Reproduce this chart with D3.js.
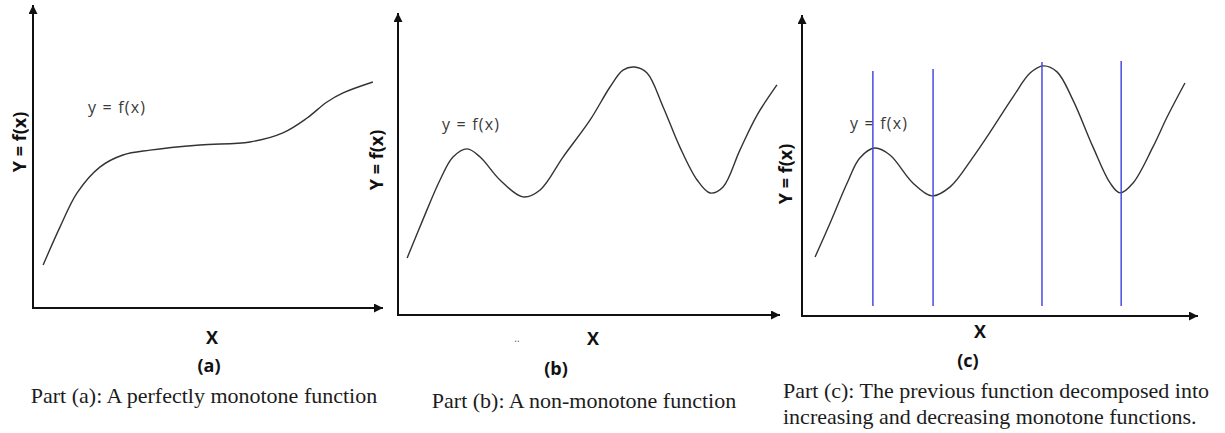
<!DOCTYPE html>
<html>
<head>
<meta charset="utf-8">
<script src="https://cdn.jsdelivr.net/npm/d3@7/dist/d3.min.js"></script>
<style>
  body { margin: 0; background: #fff; }
  svg { display: block; }
</style>
</head>
<body>
<svg id="chart" width="1225" height="433"></svg>
<script>
// sketch values, both axes on a 0..100 scale per panel
const curveA = [[2.9,14.2],[7.7,26.7],[12.6,38.0],[19.1,46.5],[25.7,50.5],[33.4,52.1],[47.7,53.8],
  [62.0,54.8],[71.4,57.8],[78.3,62.7],[84.0,68.0],[88.6,71.0],[97.1,74.6]];

const curveB = [[2.4,18.9],[6.5,31.5],[11.0,44.7],[14.4,52.3],[18.1,55.0],[21.5,52.3],[26.7,44.7],
  [32.7,39.1],[37.2,41.4],[43.2,52.3],[50.3,64.6],[55.5,75.5],[58.9,81.1],[62.0,82.1],[65.2,80.1],
  [69.4,68.9],[73.8,55.6],[78.3,44.7],[81.7,40.4],[85.1,42.4],[89.5,54.6],[94.0,66.2],[99.2,76.2]];

const curveC = [[3.3,19.6],[7.1,30.9],[11.4,44.2],[14.6,52.5],[18.4,55.8],[22.2,53.5],[28.0,44.2],
  [32.8,39.9],[37.4,42.9],[43.2,52.8],[48.2,62.5],[53.3,72.8],[57.6,80.7],[60.9,83.1],[64.4,81.1],
  [68.4,71.8],[73.5,56.1],[77.8,44.2],[80.3,40.9],[83.6,44.2],[88.6,56.1],[92.2,66.1],[96.7,77.4]];

// where (c) is cut into monotone pieces
const splitX = [17.9, 33.1, 60.6, 80.6];
const splitTop = [81.4, 82.1, 84.4, 84.7];
const splitBottom = 3.3;

const curveLabel = 'y = f(x)';
const yLabel = 'Y = f(x)';
const xLabel = 'X';
const partTags = ['(a)', '(b)', '(c)'];
const captions = [
  ['Part (a): A perfectly monotone function'],
  ['Part (b): A non-monotone function'],
  ['Part (c): The previous function decomposed into', 'increasing and decreasing monotone functions.']
];

const svg = d3.select('#chart');

svg.append('defs').append('marker')
    .attr('id', 'arrow')
    .attr('viewBox', '0 0 10 10')
    .attr('refX', 10).attr('refY', 5)
    .attr('markerUnits', 'userSpaceOnUse')
    .attr('markerWidth', 12).attr('markerHeight', 9)
    .attr('orient', 'auto')
  .append('path')
    .attr('d', 'M0,0L10,5L0,10Z')
    .attr('fill', '#111');

const panels = [
  {ox: 33,  oy: 308, xTip: 383,  yTip: 5,  data: curveA,
   fx: [88, 107], yl: [19, 142], xl: [212, 337], tag: [209, 365], cap: [204, 395], capAnchor: 'middle'},
  {ox: 398, oy: 315, xTip: 780,  yTip: 13, data: curveB,
   fx: [442, 124], yl: [376, 160], xl: [593, 338], tag: [556, 368], cap: [584, 400], capAnchor: 'middle'},
  {ox: 802, oy: 316, xTip: 1198, yTip: 15, data: curveC,
   fx: [850, 123], yl: [785, 174], xl: [980, 331], tag: [968, 360], cap: [783, 390], capAnchor: 'start'}
];

panels.forEach(function(p, i) {
  const x = d3.scaleLinear().domain([0, 100]).range([p.ox, p.xTip]);
  const y = d3.scaleLinear().domain([0, 100]).range([p.oy, p.yTip]);
  const g = svg.append('g');

  // axes with arrow heads
  g.append('line')
      .attr('x1', x(0)).attr('y1', y(0)).attr('x2', x(100)).attr('y2', y(0))
      .attr('stroke', '#111').attr('stroke-width', 2)
      .attr('marker-end', 'url(#arrow)');
  g.append('line')
      .attr('x1', x(0)).attr('y1', y(0) + 1).attr('x2', x(0)).attr('y2', y(100))
      .attr('stroke', '#111').attr('stroke-width', 2)
      .attr('marker-end', 'url(#arrow)');

  const line = d3.line()
      .x((d) => x(d[0]))
      .y((d) => y(d[1]))
      .curve(d3.curveCatmullRom.alpha(0.5));

  g.append('path')
      .datum(p.data)
      .attr('d', line)
      .attr('fill', 'none')
      .attr('stroke', '#333')
      .attr('stroke-width', 1.4);

  g.append('text')
      .attr('x', p.fx[0]).attr('y', p.fx[1])
      .attr('dominant-baseline', 'central')
      .attr('font-family', "'Open Sans', sans-serif")
      .attr('font-size', 16)
      .attr('letter-spacing', 1.2)
      .attr('fill', '#3a3a3a')
      .text(curveLabel);

  if (i === 2) {
    g.selectAll('.split')
      .data(splitX)
      .join('line')
        .attr('class', 'split')
        .attr('x1', (d) => x(d)).attr('x2', (d) => x(d))
        .attr('y1', (d, k) => y(splitTop[k]))
        .attr('y2', y(splitBottom))
        .attr('stroke', '#4a4ae6')
        .attr('stroke-width', 1.5);
  }

  g.append('text')
      .attr('transform', 'translate(' + p.yl[0] + ',' + p.yl[1] + ') rotate(-90)')
      .attr('text-anchor', 'middle').attr('dominant-baseline', 'central')
      .attr('font-family', "'Open Sans', sans-serif")
      .attr('font-size', 18).attr('font-weight', 700)
      .attr('fill', '#111')
      .text(yLabel);

  g.append('text')
      .attr('x', p.xl[0]).attr('y', p.xl[1])
      .attr('text-anchor', 'middle').attr('dominant-baseline', 'central')
      .attr('font-family', "'Open Sans', sans-serif")
      .attr('font-size', 18).attr('font-weight', 700)
      .attr('fill', '#111')
      .text(xLabel);

  g.append('text')
      .attr('x', p.tag[0]).attr('y', p.tag[1])
      .attr('text-anchor', 'middle').attr('dominant-baseline', 'central')
      .attr('font-family', "'Open Sans', sans-serif")
      .attr('font-size', 18).attr('font-weight', 700)
      .attr('fill', '#111')
      .text(partTags[i]);

  g.selectAll('.cap')
    .data(captions[i])
    .join('text')
      .attr('class', 'cap')
      .attr('x', p.cap[0])
      .attr('y', (d, k) => p.cap[1] + k * 26)
      .attr('text-anchor', p.capAnchor).attr('dominant-baseline', 'central')
      .attr('font-family', "'Liberation Serif', 'Times New Roman', serif")
      .attr('font-size', 22)
      .attr('fill', '#1c1c1c')
      .text((d) => d);
});

// stray marks under the x axis of (b)
svg.append('text')
    .attr('x', 517).attr('y', 342)
    .attr('text-anchor', 'middle')
    .attr('font-family', "'Open Sans', sans-serif")
    .attr('font-size', 10)
    .attr('fill', '#555')
    .text('..');
</script>
</body>
</html>
